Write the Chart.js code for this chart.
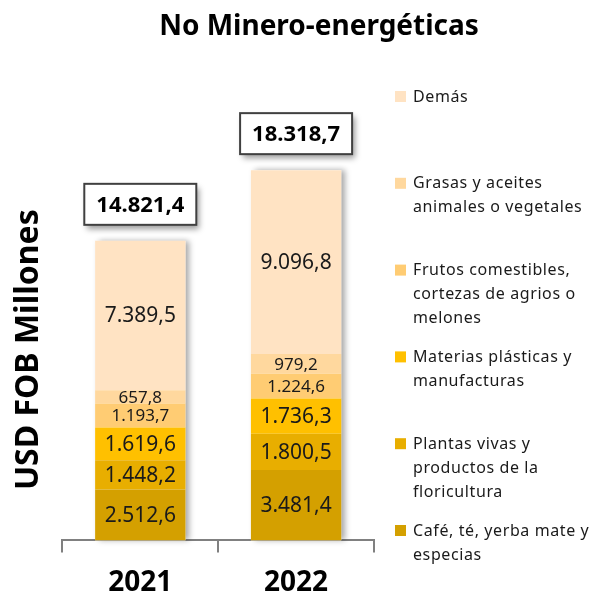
<!DOCTYPE html>
<html>
  <head>
    <title>No Minero-energéticas</title>
    <script src="https://cdn.jsdelivr.net/npm/chart.js@4.4.0/dist/chart.umd.min.js"></script>
    <style>
      body { margin: 0; background: #fff; }
      #wrap { width: 590px; height: 596px; }
    </style>
  </head>
  <body>
    <div id="wrap"><canvas id="myChart"></canvas></div>
    <script>
      // data (USD FOB millones)
      const years = ['2021', '2022'];
      const cafe = [2512.6, 3481.4];
      const plantas = [1448.2, 1800.5];
      const materias = [1619.6, 1736.3];
      const frutos = [1193.7, 1224.6];
      const grasas = [657.8, 979.2];
      const demas = [7389.5, 9096.8];
      const totals = [14821.4, 18318.7];

      const seriesNames = [
        ['Café, té, yerba mate y', 'especias'],
        ['Plantas vivas y', 'productos de la', 'floricultura'],
        ['Materias plásticas y', 'manufacturas'],
        ['Frutos comestibles,', 'cortezas de agrios o', 'melones'],
        ['Grasas y aceites', 'animales o vegetales'],
        ['Demás']
      ];
      const seriesValues = [cafe, plantas, materias, frutos, grasas, demas];
      const colors = ['#D4A000', '#E8AE00', '#FFC000', '#FFCC73', '#FFD89E', '#FFE3C3'];
      // small segments get a smaller label
      const smallLabel = [false, false, false, true, true, false];

      const fmt = v => {
        const parts = v.toFixed(1).split('.');
        return parts[0].replace(/\B(?=(\d{3})+(?!\d))/g, '.') + ',' + parts[1];
      };

      const FONT = '"Noto Sans", "Open Sans", sans-serif';

      const extras = {
        id: 'extras',
        beforeDatasetsDraw(chart) {
          // soft shadow behind each stacked bar
          const ctx = chart.ctx;
          const topMeta = chart.getDatasetMeta(chart.data.datasets.length - 1);
          const base = chart.scales.y.getPixelForValue(0);
          ctx.save();
          topMeta.data.forEach(bar => {
            ctx.shadowColor = 'rgba(0,0,0,0.35)';
            ctx.shadowBlur = 6;
            ctx.shadowOffsetX = 4;
            ctx.shadowOffsetY = 0;
            ctx.fillStyle = '#fff';
            ctx.fillRect(bar.x - bar.width / 2, bar.y, bar.width, base - bar.y);
          });
          ctx.restore();
        },
        afterDraw(chart) {
          const ctx = chart.ctx;
          ctx.save();
          ctx.textAlign = 'center';
          ctx.textBaseline = 'middle';

          // segment labels
          chart.data.datasets.forEach((ds, i) => {
            chart.getDatasetMeta(i).data.forEach((bar, j) => {
              ctx.fillStyle = '#1a1a1a';
              ctx.font = (smallLabel[i] ? '17px ' : '21px ') + FONT;
              ctx.fillText(fmt(ds.data[j]), bar.x, (bar.y + bar.base) / 2 + 1);
            });
          });

          // total boxes
          const y = chart.scales.y;
          const x = chart.scales.x;
          totals.forEach((t, j) => {
            const cx = x.getPixelForValue(j);
            const top = y.getPixelForValue(t);
            const w = 112, h = 41;
            const bx = cx - w / 2, by = top - 16 - h;
            ctx.save();
            ctx.shadowColor = 'rgba(0,0,0,0.4)';
            ctx.shadowBlur = 6;
            ctx.shadowOffsetX = 3;
            ctx.shadowOffsetY = 4;
            ctx.fillStyle = '#fff';
            ctx.fillRect(bx, by, w, h);
            ctx.restore();
            ctx.strokeStyle = '#404040';
            ctx.lineWidth = 2;
            ctx.strokeRect(bx, by, w, h);
            ctx.fillStyle = '#000';
            ctx.font = 'bold 22px ' + FONT;
            ctx.fillText(fmt(t), cx, by + h / 2 + 1);
          });

          // title
          ctx.fillStyle = '#000';
          ctx.font = 'bold 28px ' + FONT;
          ctx.fillText('No Minero-energéticas', 319, 27);

          // legend, top item first
          ctx.textAlign = 'left';
          ctx.font = '16px ' + FONT;
          ctx.letterSpacing = '0.6px';
          for (let k = 0; k < seriesNames.length; k++) {
            const i = seriesNames.length - 1 - k;
            const ly = 97 + k * 86.8;
            ctx.fillStyle = colors[i];
            ctx.fillRect(395, ly - 6, 11, 11);
            ctx.fillStyle = '#1a1a1a';
            seriesNames[i].forEach((line, n) => {
              ctx.fillText(line, 413, ly + n * 24);
            });
          }
          ctx.restore();
        }
      };

      const ctx = document.getElementById('myChart').getContext('2d');
      const myChart = new Chart(ctx, {
        type: 'bar',
        data: {
          labels: years,
          datasets: seriesValues.map((vals, i) => ({
            label: seriesNames[i].join(' '),
            data: vals,
            backgroundColor: colors[i],
            borderWidth: 0,
            categoryPercentage: 1,
            barPercentage: 0.58
          }))
        },
        options: {
          responsive: true,
          maintainAspectRatio: false,
          animation: false,
          layout: { padding: { top: 159, right: 216, left: 10, bottom: -18 } },
          plugins: {
            legend: { display: false },
            title: { display: false },
            tooltip: { enabled: false }
          },
          scales: {
            x: {
              stacked: true,
              grid: { drawOnChartArea: false, tickLength: 12, color: '#808080', lineWidth: 2, offset: true },
              border: { color: '#808080', width: 2 },
              ticks: { color: '#000', font: { family: FONT, size: 28, weight: 'bold' }, padding: 14 }
            },
            y: {
              stacked: true,
              min: 0,
              max: 18870,
              grid: { display: false },
              border: { display: false },
              ticks: { display: false },
              title: {
                display: true,
                text: 'USD FOB Millones',
                color: '#000',
                font: { family: FONT, size: 32, weight: 'bold' },
                padding: { top: 0, bottom: 6 }
              }
            }
          }
        },
        plugins: [extras]
      });
    </script>
  </body>
</html>
